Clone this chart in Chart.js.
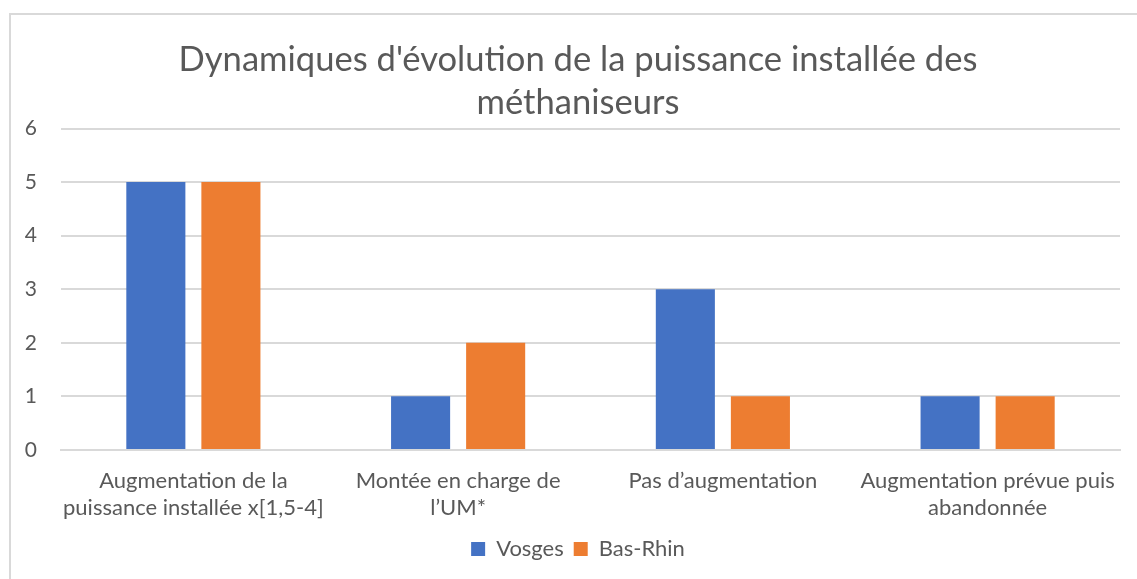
<!DOCTYPE html>
<html lang="fr">
<head>
  <meta charset="UTF-8">
  <title>Dynamiques d'évolution</title>
  <script src="https://cdn.jsdelivr.net/npm/chart.js"></script>
</head>
<body>
<style>
    body {
        margin: 0;
        background-color: #ffffff;
    }

    .frame {
        position: absolute;
        left: 9px;
        top: 13px;
        width: 1200px;
        height: 600px;
        border-left: 2px solid #d9d9d9;
        border-top: 2px solid #d9d9d9;
    }

    .chart-container {
        position: absolute;
        left: 0;
        top: 0;
        width: 1137px;
        height: 579px;
    }
</style>

<div class="frame"></div>
<div class="chart-container">
  <canvas id="myChart"></canvas>
</div>

<script>
    const categories = [
        ['Augmentation de la', 'puissance installée x[1,5-4]'],
        ['Montée en charge de', 'l’UM*'],
        ['Pas d’augmentation'],
        ['Augmentation prévue puis', 'abandonnée']
    ];
    const vosges = [5, 1, 3, 1];
    const basRhin = [5, 2, 1, 1];
    const yTicks = [0, 1, 2, 3, 4, 5, 6];

    const textColor = '#595959';
    const fontFamily = 'Lato, "Open Sans", sans-serif';

    const data = {
        labels: categories,
        datasets: [{
            label: 'Vosges',
            backgroundColor: '#4472c4',
            data: vosges
        }, {
            label: 'Bas-Rhin',
            backgroundColor: '#ed7d31',
            data: basRhin
        }]
    };

    const options = {
        responsive: true,
        maintainAspectRatio: false,
        animation: false,
        layout: {
            padding: {left: 36, right: 17, top: 38, bottom: 9}
        },
        datasets: {
            bar: {
                categoryPercentage: 0.567,
                barPercentage: 0.787
            }
        },
        plugins: {
            title: {
                display: true,
                text: ["Dynamiques d'évolution de la puissance installée des", 'méthaniseurs'],
                color: textColor,
                font: {family: fontFamily, size: 34.6, weight: 'normal', lineHeight: 1.25},
                padding: {top: 0, bottom: 4}
            },
            legend: {
                position: 'bottom',
                labels: {
                    color: textColor,
                    font: {family: fontFamily, size: 22},
                    boxWidth: 14,
                    boxHeight: 14,
                    padding: 10
                }
            },
            tooltip: {enabled: false}
        },
        scales: {
            x: {
                grid: {display: false, drawTicks: false},
                border: {display: true, color: '#d9d9d9', width: 2},
                ticks: {
                    color: textColor,
                    font: {family: fontFamily, size: 22, lineHeight: 1.23},
                    padding: 17,
                    maxRotation: 0,
                    autoSkip: false
                },
                // labels overflow their category like in the original, don't let them shrink the plot
                afterFit: function (scale) {
                    scale.paddingLeft = 0;
                    scale.paddingRight = 0;
                    scale.height -= 10;
                }
            },
            y: {
                min: 0,
                max: 6,
                afterBuildTicks: function (axis) {
                    axis.ticks = yTicks.map(function (v) { return {value: v}; });
                },
                // narrow axis box so the title stays centred; labels may sit left of it
                afterFit: function (scale) {
                    scale.width = 25;
                    scale._computeLabelArea = function () { return undefined; };
                },
                grid: {color: '#d9d9d9', lineWidth: 2, drawTicks: false},
                border: {display: false},
                ticks: {
                    color: textColor,
                    font: {family: fontFamily, size: 21},
                    padding: 24
                }
            }
        }
    };

    const myChart = new Chart(document.getElementById('myChart'), {
        type: 'bar',
        data: data,
        options: options
    });
</script>
</body>
</html>
